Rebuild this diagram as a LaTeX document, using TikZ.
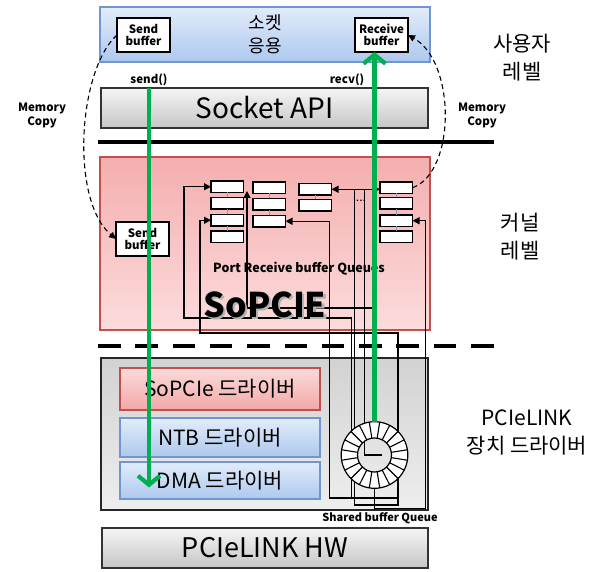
\documentclass[tikz,border=0pt]{standalone}
\usepackage{fontspec}
\setmainfont{Noto Sans CJK KR}
\usetikzlibrary{arrows.meta,shadows}

\definecolor{flowgreen}{HTML}{00B050}
\definecolor{blueline}{HTML}{7096D1}
\definecolor{bluehi}{HTML}{E2ECFA}
\definecolor{bluelo}{HTML}{ADC8EE}
\definecolor{redline}{HTML}{C0504D}
\definecolor{pinkhi}{HTML}{F4AEAE}
\definecolor{pinklo}{HTML}{FCDCDC}
\definecolor{drvpinkhi}{HTML}{FBDADA}
\definecolor{drvpinklo}{HTML}{F2A8A8}
\definecolor{grayhi}{HTML}{F5F5F5}
\definecolor{graylo}{HTML}{C6C6C6}
\definecolor{panelhi}{HTML}{D2D2D2}
\definecolor{panello}{HTML}{EEEEEE}
\definecolor{linkblue}{HTML}{7F9CC9}

\tikzset{
  box/.style={anchor=north west, inner sep=0pt, outer sep=0pt, align=center},
  softshadow/.style={drop shadow={shadow xshift=1.3pt, shadow yshift=-1.3pt, opacity=0.25}},
  bluebox/.style={box, draw=blueline, line width=1.1pt, top color=bluehi, bottom color=bluelo, softshadow},
  graybox/.style={box, draw=black!80, line width=1.1pt, top color=grayhi, bottom color=graylo},
  pinkpanel/.style={box, draw=redline, line width=1.6pt, top color=pinkhi, bottom color=pinklo, softshadow},
  pinkbox/.style={box, draw=redline, line width=1.4pt, top color=drvpinkhi, bottom color=drvpinklo, softshadow},
  greypanel/.style={box, draw=black!85, line width=1.1pt, top color=panelhi, bottom color=panello},
  bufbox/.style={box, draw=black, line width=1.3pt, fill=white, minimum width=53pt, minimum height=34pt,
    font=\fontsize{11.5}{12.5}\selectfont\bfseries},
  slot/.style={box, draw=black, line width=1.2pt, fill=white, minimum width=32.5pt, minimum height=11.5pt},
  slotlink/.style={draw=linkblue, line width=0.8pt},
  qline/.style={draw=black, line width=1.2pt},
  qtip/.style={-{Triangle[length=7pt,width=7pt]}},
  copyline/.style={draw=black, line width=1.1pt, dash pattern=on 5pt off 3.5pt,
    -{Triangle[length=7pt,width=6.5pt]}},
  flow/.style={draw=flowgreen, line width=4.2pt, -{Straight Barb[length=9pt,width=22pt]}},
  smalllabel/.style={font=\fontsize{11.5}{14}\selectfont\bfseries, align=center, inner sep=0pt},
  sidelabel/.style={font=\fontsize{21}{28}\selectfont, align=center, inner sep=0pt},
  boxtext/.style={font=\fontsize{21}{24}\selectfont},
  septhick/.style={draw=black, line width=4.5pt},
}

% bold title with a grey drop shadow behind it
\newcommand{\shadowedtitle}[1]{%
  \makebox[0pt][l]{\hspace{2.2pt}\raisebox{-2.2pt}{\color{black!30}#1}}#1}

\begin{document}
\begin{tikzpicture}[x=1pt, y=1pt]
\useasboundingbox (0,0) rectangle (595,-572);

% ---- user level: socket application and socket API
\node[bluebox, minimum width=330pt, minimum height=55pt,
      font=\fontsize{18}{23}\selectfont] (app) at (100,-7) {소켓\\응용};
\node[bufbox] (sendbuf) at (117,-18) {Send\\buffer};
\node[bufbox] (recvbuf) at (355,-18) {Receive\\buffer};
\node[smalllabel] (sendlbl) at (149,-80) {send()};
\node[smalllabel] (recvlbl) at (347,-80) {recv()};
\node[graybox, minimum width=327pt, minimum height=40pt,
      font=\fontsize{28}{30}\selectfont] (sockapi) at (101,-88) {Socket API};

\draw[septhick] (98,-142) -- (494,-142);

% ---- kernel level: SoPCIE module
\node[pinkpanel, minimum width=330pt, minimum height=173pt] (sopcie) at (100,-157) {};
\node[bufbox] (ksendbuf) at (116,-222) {Send\\buffer};
\node[font=\fontsize{12.5}{14}\selectfont\bfseries, inner sep=0pt] (portlbl) at (299,-269)
  {Port Receive buffer Queues};

% ---- driver level
\node[greypanel, minimum width=327pt, minimum height=152pt] (drvpanel) at (101,-358) {};
\node[pinkbox, minimum width=200pt, minimum height=42pt, boxtext] (sopciedrv) at (120,-368) {SoPCIe 드라이버};
\node[bluebox, minimum width=200pt, minimum height=39pt, boxtext] (ntbdrv) at (120,-418) {NTB 드라이버};
\node[bluebox, minimum width=200pt, minimum height=37pt, boxtext] (dmadrv) at (120,-462) {DMA 드라이버};
\node[graybox, minimum width=326pt, minimum height=40pt,
      font=\fontsize{27}{30}\selectfont] (hw) at (102,-528) {PCIeLINK HW};

\draw[septhick, dash pattern=on 22.5pt off 14.8pt] (98,-346) -- (495,-346);

% shared ring buffer (placed here, drawn on top later)
\node[circle, minimum size=66.6pt, inner sep=0pt, outer sep=0pt] (ring) at (374.5,-455) {};

% ---- port receive buffer queue slots
\foreach \r/\y in {1/181, 2/197.5, 3/214.5, 4/231}
  \node[slot] (q1\r) at (211,-\y) {};
\foreach \r/\y in {1/182, 2/198.5, 3/215.5}
  \node[slot] (q2\r) at (253,-\y) {};
\foreach \r/\y in {1/183.5, 2/199.5}
  \node[slot] (q3\r) at (299,-\y) {};
\foreach \r/\y in {1/182, 2/197.5, 3/215, 4/231}
  \node[slot] (q4\r) at (380,-\y) {};
\draw[slotlink] (q11.south) -- (q12.north) (q12.south) -- (q13.north) (q13.south) -- (q14.north);
\draw[slotlink] (q21.south) -- (q22.north) (q22.south) -- (q23.north);
\draw[slotlink] (q31.south) -- (q32.north);
\draw[slotlink] (q41.south) -- (q42.north) (q42.south) -- (q43.north) (q43.south) -- (q44.north);
\node[font=\fontsize{12}{12}\selectfont, inner sep=0pt] (dots) at (361,-201) {...};

% ---- wiring between the ring buffer and the port queues
\draw[qline, {Triangle[length=7pt,width=7pt]}-{Triangle[length=7pt,width=7pt]}]
  (q31.east) -- (q31.east -| q41.west);
\draw[qline, qtip] ([xshift=23pt]q31.east) |- (398,-505) |- (200,-333) |- (q13.west);
\draw[qline] ([xshift=33pt]q31.east) |- ([xshift=7pt]ring.center);
\draw[qline, qtip] (351.5,-498) |- (184,-318) |- (q11.west);
\draw[qline, qtip] (398,-498) -| ([xshift=44pt]q23.east) -- (q23.east);
\draw[qline, qtip] (ring.north) |- (247,-308) -- (247,-191);
\draw[qline, qtip] (ring.south) -- ([yshift=-20pt]ring.south) -| ([xshift=13pt]q43.east) -- (q43.east);

% module title
\node[font=\fontsize{34}{36}\selectfont\bfseries, inner sep=0pt] (sopcielbl) at (265,-306) {\shadowedtitle{SoPCIE}};

% ring buffer
\draw[line width=1.2pt, fill=white, even odd rule]
  (ring.center) circle (33.3pt) (ring.center) circle (17pt);
\foreach \a in {9,27,...,351}
  \draw[line width=1.1pt] (ring.center) ++(\a:17pt) -- ++(\a:16.3pt);

% ---- data flow
\draw[flow] (sendlbl.south |- sockapi.north) -- ([yshift=-7pt]sendlbl.south |- dmadrv.center);
\draw[flow] (ring.north) -- (ring.north |- recvbuf.south);

% ---- memory copies
\draw[copyline] (sendbuf.west) .. controls (78,-70) and (70,-200) .. (ksendbuf.west);
\draw[copyline] (q41.east) .. controls (456,-172) and (456,-62) .. (recvbuf.east);

% ---- labels
\node[smalllabel] (copyl) at (42,-115) {Memory\\Copy};
\node[smalllabel] (copyr) at (482,-115) {Memory\\Copy};
\node[font=\fontsize{11}{12}\selectfont\bfseries, inner sep=0pt] (sharedlbl) at (380,-518) {Shared buffer Queue};
\node[sidelabel] (userlvl) at (522,-58) {사용자\\레벨};
\node[sidelabel] (kernlvl) at (520,-237) {커널\\레벨};
\node[sidelabel] (drvlvl) at (527,-432) {PCIeLINK\\장치 드라이버};
\end{tikzpicture}
\end{document}
